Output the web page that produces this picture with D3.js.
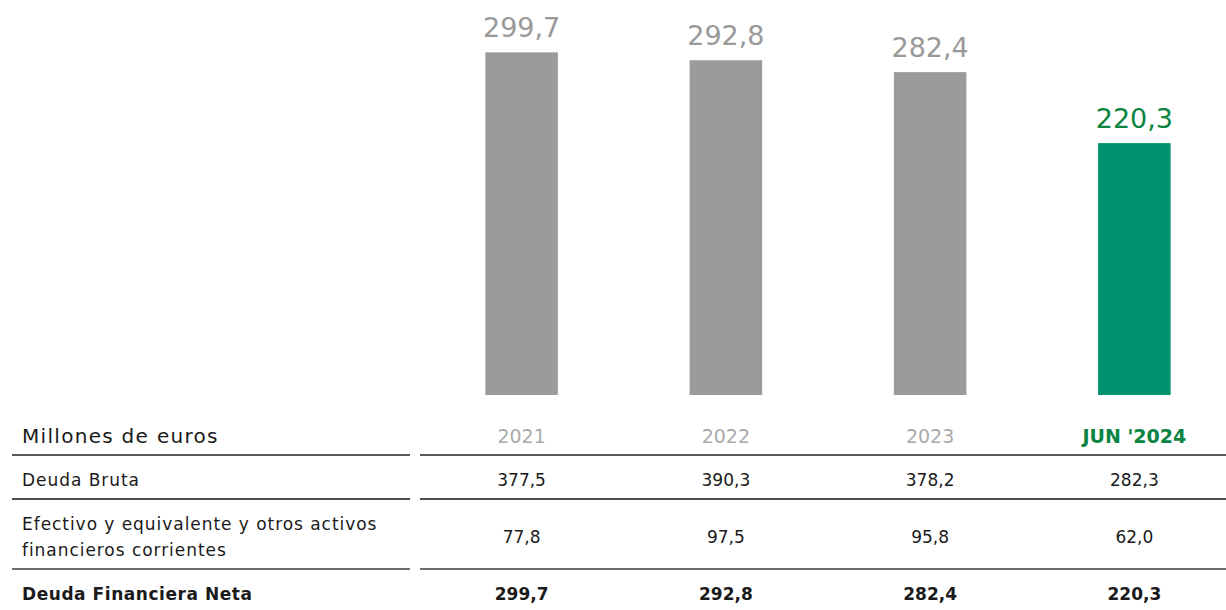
<!DOCTYPE html>
<html lang="es">
<head>
<meta charset="UTF-8">
<title>Deuda Financiera Neta</title>
<script src="https://d3js.org/d3.v7.min.js"></script>
<style>
  body { margin: 0; background: #fff; font-family: "DejaVu Sans", sans-serif; }
  svg text { font-family: "DejaVu Sans", sans-serif; }
</style>
</head>
<body>
<div id="chart"></div>
<script>
  // data
  const periods = ["2021", "2022", "2023", "JUN '2024"];
  const netDebt = [299.7, 292.8, 282.4, 220.3];
  const grossDebt = [377.5, 390.3, 378.2, 282.3];
  const cash = [77.8, 97.5, 95.8, 62.0];
  const rowLabels = ["Deuda Bruta", "Efectivo y equivalente y otros activos|financieros corrientes", "Deuda Financiera Neta"];
  const unitLabel = "Millones de euros";

  const fmt = v => v.toFixed(1).replace(".", ",");

  const W = 1226, H = 610;
  const svg = d3.select("#chart").append("svg")
    .attr("width", W).attr("height", H);

  // column scale shared by bars and table
  const x = d3.scaleBand().domain(periods).range([420, 1236]).paddingInner(0.645).paddingOuter(0.32);
  const baseY = 395;
  const y = d3.scaleLinear().domain([0, 300]).range([baseY, baseY - 343]);

  const isLast = (d, i) => i === periods.length - 1;

  svg.selectAll("rect.bar")
    .data(netDebt)
    .enter().append("rect")
    .attr("class", "bar")
    .attr("x", (d, i) => x(periods[i]))
    .attr("y", d => y(d))
    .attr("width", x.bandwidth())
    .attr("height", d => baseY - y(d))
    .attr("fill", (d, i) => isLast(d, i) ? "#009170" : "#9b9b9b");

  svg.selectAll("text.val")
    .data(netDebt)
    .enter().append("text")
    .attr("class", "val")
    .attr("x", (d, i) => x(periods[i]) + x.bandwidth() / 2)
    .attr("y", d => y(d) - 15)
    .attr("text-anchor", "middle")
    .attr("font-size", 27)
    .attr("fill", (d, i) => isLast(d, i) ? "#0b8442" : "#999")
    .text(d => fmt(d));

  // table
  const cx = p => x(p) + x.bandwidth() / 2;

  svg.append("text")
    .attr("x", 22).attr("y", 443)
    .attr("font-size", 20).attr("letter-spacing", 1.3).attr("fill", "#1a1a1a")
    .text(unitLabel);

  svg.selectAll("text.head")
    .data(periods)
    .enter().append("text")
    .attr("class", "head")
    .attr("x", d => cx(d))
    .attr("y", 443)
    .attr("text-anchor", "middle")
    .attr("font-size", 19)
    .attr("font-weight", (d, i) => isLast(d, i) ? "bold" : "normal")
    .attr("fill", (d, i) => isLast(d, i) ? "#0b8442" : "#aaa")
    .text(d => d);

  const lines = [{ y: 455, c: "#1e2328" }, { y: 499, c: "#111" }, { y: 569, c: "#3c4043" }];
  lines.forEach(l => {
    svg.append("line").attr("x1", 12).attr("x2", 410).attr("y1", l.y).attr("y2", l.y)
      .attr("stroke", l.c).attr("stroke-width", 1.5);
    svg.append("line").attr("x1", 420).attr("x2", W).attr("y1", l.y).attr("y2", l.y)
      .attr("stroke", l.c).attr("stroke-width", 1.5);
  });

  const rows = [
    { label: rowLabels[0], vals: grossDebt, y: 486, bold: false },
    { label: rowLabels[1], vals: cash, y: 543, bold: false },
    { label: rowLabels[2], vals: netDebt, y: 600, bold: true }
  ];

  rows.forEach(r => {
    const parts = r.label.split("|");
    const t = svg.append("text")
      .attr("x", 22)
      .attr("font-size", 17)
      .attr("letter-spacing", r.bold ? 0.55 : 0.95)
      .attr("font-weight", r.bold ? "bold" : "normal")
      .attr("fill", "#1a1a1a");
    if (parts.length === 1) {
      t.attr("y", r.y).text(parts[0]);
    } else {
      parts.forEach((p, k) => {
        t.append("tspan").attr("x", 22).attr("y", r.y - 13 + k * 26).text(p);
      });
    }
    svg.selectAll(null)
      .data(r.vals)
      .enter().append("text")
      .attr("x", (d, i) => cx(periods[i]))
      .attr("y", r.y)
      .attr("text-anchor", "middle")
      .attr("font-size", 17)
      .attr("font-weight", r.bold ? "bold" : "normal")
      .attr("fill", "#1a1a1a")
      .text(d => fmt(d));
  });
</script>
</body>
</html>
